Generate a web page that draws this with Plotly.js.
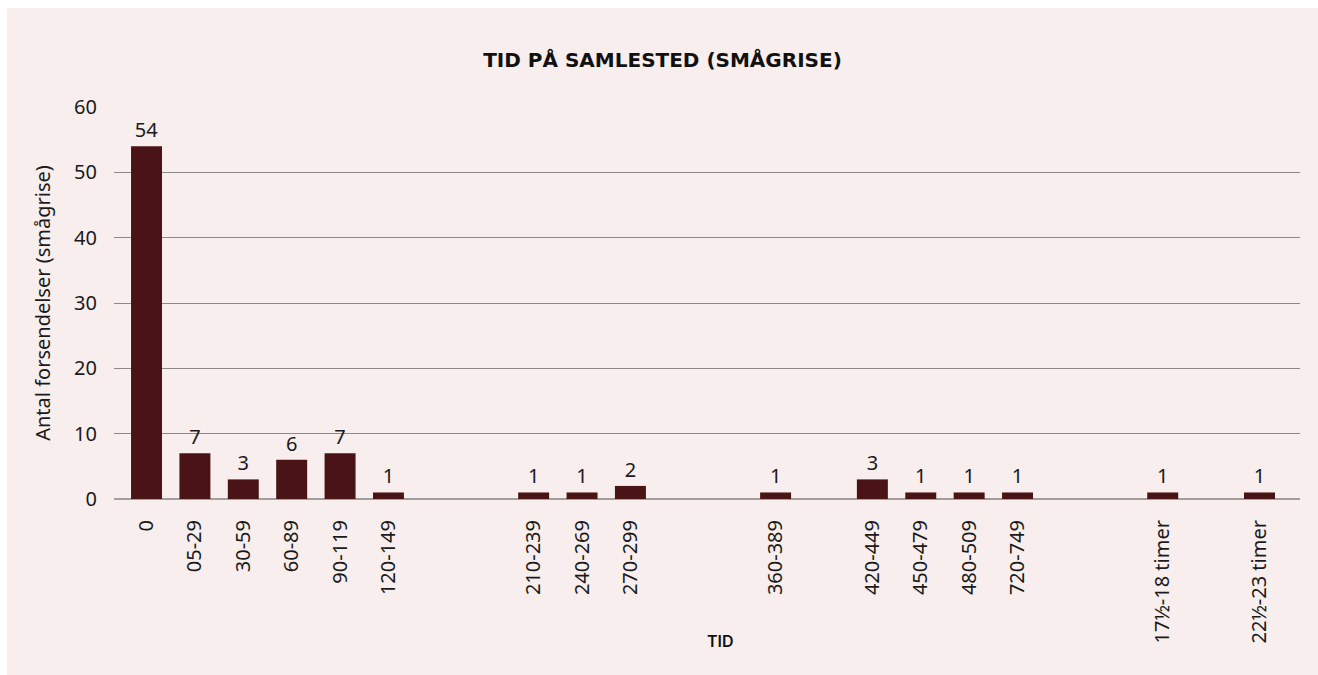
<!DOCTYPE html>
<html>
<head>
<meta charset="utf-8">
<script src="https://cdn.plot.ly/plotly-3.0.1.min.js"></script>
<style>
  html, body { margin: 0; padding: 0; background: #ffffff; }
  #chart { position: absolute; left: 7px; top: 8px; width: 1311px; height: 667px; }
</style>
</head>
<body>
<div id="chart"></div>
<script>
// Categories (blank entries are the empty slots on the axis)
const categories = [
  "0", "05-29", "30-59", "60-89", "90-119", "120-149", " ", "  ",
  "210-239", "240-269", "270-299", "   ", "    ", "360-389", "     ",
  "420-449", "450-479", "480-509", "720-749", "      ", "       ",
  "17½-18 timer", "        ", "22½-23 timer"
];
const counts = [
  54, 7, 3, 6, 7, 1, null, null,
  1, 1, 2, null, null, 1, null,
  3, 1, 1, 1, null, null,
  1, null, 1
];
const shownTicks = categories.filter((c, i) => counts[i] !== null);

const chartTitle = "TID PÅ SAMLESTED (SMÅGRISE)";
const xTitle = "TID";
const yTitle = "Antal forsendelser (smågrise)";

const baseFont = "Noto Sans, Open Sans, sans-serif";

const trace = {
  type: "bar",
  x: categories,
  y: counts,
  marker: { color: "#4a1416" },
  text: counts.map(v => v === null ? "" : String(v)),
  textposition: "outside",
  textfont: { family: baseFont, size: 20, color: "#1a1a1a" },
  cliponaxis: false,
  hoverinfo: "x+y"
};

const layout = {
  width: 1311,
  height: 667,
  paper_bgcolor: "#f7eeed",
  plot_bgcolor: "#f7eeed",
  margin: { l: 107, r: 18, t: 99, b: 176 },
  bargap: 0.36,
  showlegend: false,
  font: { family: baseFont, color: "#1a1a1a" },
  title: {
    text: "<b>" + chartTitle + "</b>",
    font: { family: "DejaVu Sans, sans-serif", size: 20, color: "#111111", weight: 700 },
    x: 0.5, xref: "container", xanchor: "center",
    y: 1 - 52 / 667, yref: "container", yanchor: "middle"
  },
  xaxis: {
    type: "category",
    categoryorder: "array",
    categoryarray: categories,
    range: [-0.672, 23.837],
    tickmode: "array",
    tickvals: shownTicks,
    ticktext: shownTicks,
    tickangle: -90,
    tickfont: { family: baseFont, size: 20, color: "#1a1a1a" },
    ticks: "outside",
    ticklen: 12,
    tickcolor: "rgba(0,0,0,0)",
    showgrid: false,
    showline: false,
    zeroline: false
  },
  yaxis: {
    range: [0, 60],
    tickvals: [0, 10, 20, 30, 40, 50, 60],
    tickfont: { family: baseFont, size: 20, color: "#1a1a1a" },
    ticks: "outside",
    ticklen: 12,
    tickcolor: "rgba(0,0,0,0)",
    showgrid: true,
    gridcolor: "#8c8886",
    gridwidth: 1,
    zeroline: true,
    zerolinecolor: "#a39d9b",
    zerolinewidth: 2,
    showline: false,
    title: {
      text: yTitle,
      font: { family: baseFont, size: 20, color: "#1a1a1a" },
      standoff: 18
    }
  },
  annotations: [
    {
      text: xTitle,
      xref: "paper", yref: "paper",
      x: (720 - 114) / 1186, y: -142 / 392,
      xanchor: "center", yanchor: "middle",
      showarrow: false,
      font: { family: "Inter, sans-serif", size: 16, color: "#111111", weight: 600 }
    }
  ]
};

Plotly.newPlot("chart", [trace], layout, { displayModeBar: false, staticPlot: true });
</script>
</body>
</html>
